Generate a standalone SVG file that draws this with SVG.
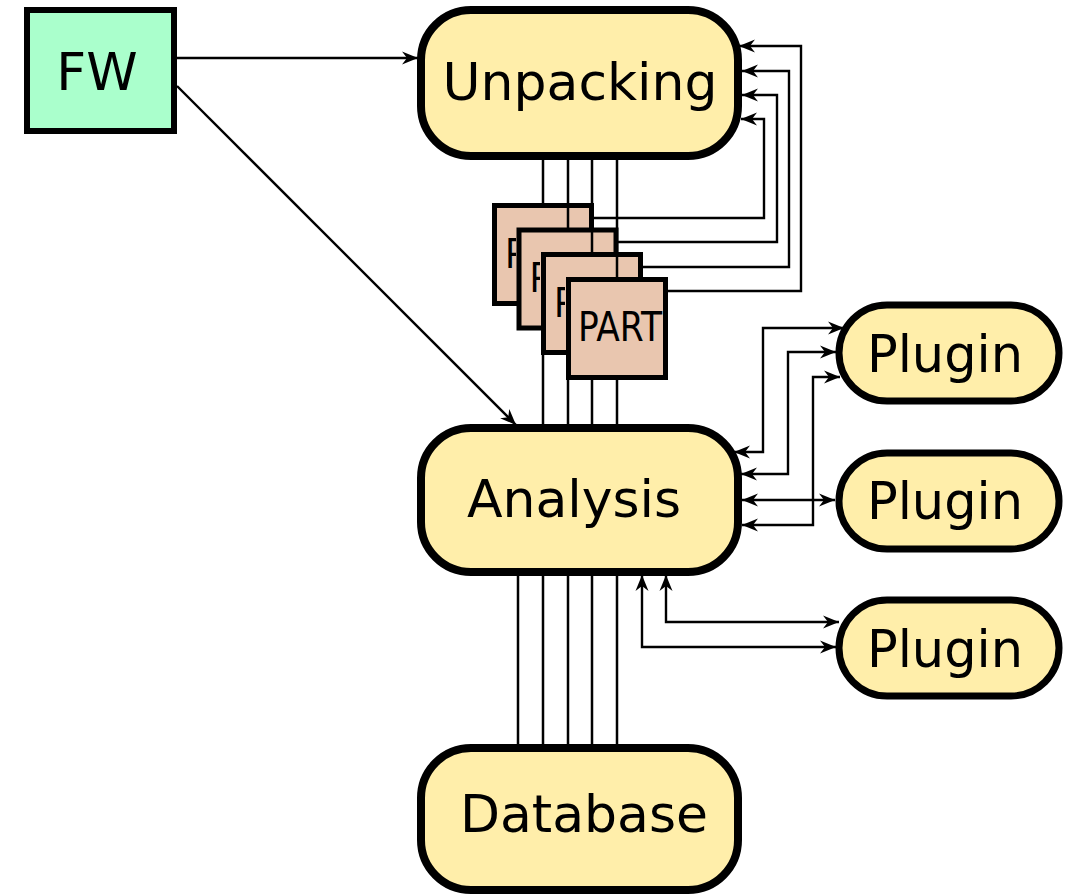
<svg xmlns="http://www.w3.org/2000/svg" width="1071" height="894" viewBox="0 0 1071 894">
<style>
.node{fill:#ffeeaa;stroke:#000;stroke-width:8}
.plug{fill:#ffeeaa;stroke:#000;stroke-width:7}
.part{fill:#e9c6af;stroke:#000;stroke-width:5}
.lbl{font-family:"DejaVu Sans","Liberation Sans",sans-serif;font-size:52px;fill:#000;text-anchor:middle}
.plbl{font-family:"DejaVu Sans","Liberation Sans",sans-serif;font-size:51px;fill:#000;text-anchor:middle}
.ptxt{font-family:"DejaVu Sans Condensed","DejaVu Sans",sans-serif;font-stretch:condensed;font-size:41px;fill:#000}
.bus{fill:none;stroke:#000;stroke-width:2.5}
.c{fill:none;stroke:#000;stroke-width:2.4}
.a{marker-end:url(#ah)}
.aa{marker-start:url(#ah);marker-end:url(#ah)}
</style>
<defs>
<marker id="ah" markerUnits="userSpaceOnUse" viewBox="-17 -8 18 16" refX="0" refY="0" markerWidth="18" markerHeight="16" orient="auto-start-reverse">
<path d="M0,0 L-16,-6.5 L-11,0 L-16,6.5 Z" fill="#000"/>
</marker>
<clipPath id="cp1"><rect x="494" y="205" width="22" height="100"/></clipPath>
<clipPath id="cp2"><rect x="518" y="230" width="22" height="100"/></clipPath>
<clipPath id="cp3"><rect x="543" y="254" width="22" height="100"/></clipPath>
</defs>
<g id="connectors">
<path class="c a" d="M177,58 H418"/>
<path class="c a" d="M177,86 L516,425"/>
<path class="bus" d="M518,575 V746 M543,575 V746 M568,575 V746 M592,575 V746 M617,575 V746"/>
<path class="c a" d="M594,218 H764 V119 H741"/>
<path class="c a" d="M618,242 H777 V95 H742"/>
<path class="c a" d="M642,267 H789 V71 H742"/>
<path class="c a" d="M668,291 H801 V46 H739"/>
<path class="c aa" d="M734,452 H763 V328 H844"/>
<path class="c aa" d="M741,474 H788 V352 H836"/>
<path class="c aa" d="M742,525 H813 V377 H840"/>
<path class="c aa" d="M742,500 H835"/>
<path class="c aa" d="M666,575 V622 H839"/>
<path class="c aa" d="M642,575 V647 H836"/>
</g>
<g id="bus1"><path class="bus" d="M543,158 V426"/></g>
<g id="part1"><rect class="part" x="494.5" y="205.5" width="97" height="98"/><text class="ptxt" clip-path="url(#cp1)" x="505" y="267.5" textLength="84" lengthAdjust="spacingAndGlyphs">PART</text></g>
<g id="bus2"><path class="bus" d="M568,158 V426"/></g>
<g id="part2"><rect class="part" x="519" y="230" width="97" height="98"/><text class="ptxt" clip-path="url(#cp2)" x="529.5" y="292" textLength="84" lengthAdjust="spacingAndGlyphs">PART</text></g>
<g id="bus3"><path class="bus" d="M592,158 V426"/></g>
<g id="part3"><rect class="part" x="543.5" y="254.5" width="97" height="98"/><text class="ptxt" clip-path="url(#cp3)" x="554" y="316.5" textLength="84" lengthAdjust="spacingAndGlyphs">PART</text></g>
<g id="bus4"><path class="bus" d="M617,158 V426"/></g>
<g id="part4"><rect class="part" x="568.5" y="279.5" width="97" height="98"/><text class="ptxt" x="578" y="341" textLength="84" lengthAdjust="spacingAndGlyphs">PART</text></g>
<g id="fw"><rect x="27" y="10" width="147" height="121" fill="#aaffcc" stroke="#000" stroke-width="6"/><text class="lbl" x="97" y="90">FW</text></g>
<g id="unpacking"><rect class="node" x="421" y="10" width="317" height="146" rx="50" ry="50"/><text class="lbl" x="580" y="100">Unpacking</text></g>
<g id="analysis"><rect class="node" x="421" y="428" width="317" height="144" rx="50" ry="50"/><text class="lbl" x="574" y="517">Analysis</text></g>
<g id="database"><rect class="node" x="421" y="748" width="317" height="142" rx="50" ry="50"/><text class="lbl" x="584" y="832">Database</text></g>
<g id="plugin1"><rect class="plug" x="839" y="305" width="220" height="96" rx="48" ry="48"/><text class="plbl" x="945" y="372">Plugin</text></g>
<g id="plugin2"><rect class="plug" x="839" y="453" width="220" height="96" rx="48" ry="48"/><text class="plbl" x="945" y="519">Plugin</text></g>
<g id="plugin3"><rect class="plug" x="839" y="600" width="220" height="96" rx="48" ry="48"/><text class="plbl" x="945" y="667">Plugin</text></g>
</svg>
